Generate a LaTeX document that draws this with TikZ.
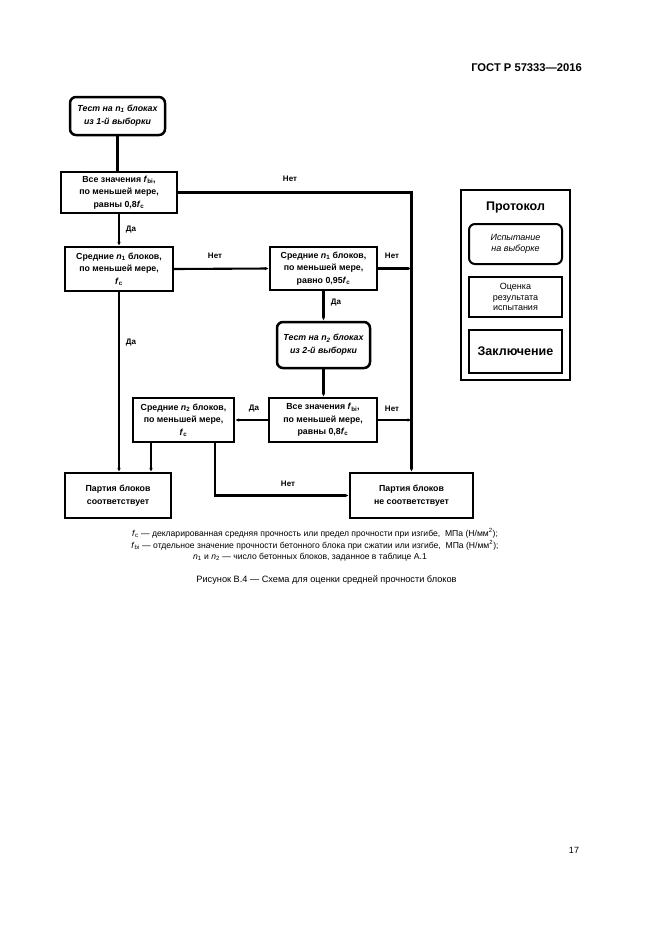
\documentclass[tikz,border=0pt]{standalone}
\usepackage{fontspec}
\setmainfont{Liberation Sans}
\usetikzlibrary{arrows.meta}
\begin{document}
\begin{tikzpicture}[x=1pt,y=-1pt,
  box/.style={draw,line width=2.1pt,align=center,inner sep=1pt,font=\fontsize{8.8}{12.5}\selectfont\bfseries},
  tbox/.style={box,rounded corners=6pt,line width=2.5pt,font=\fontsize{8.8}{13}\selectfont\bfseries\itshape},
  pbox/.style={draw,line width=2pt,minimum width=93,align=center,inner sep=1pt},
  conn/.style={line width=2.1pt},
  arr/.style={conn,-{Latex[length=4pt,width=3.5pt]}},
  lbl/.style={font=\fontsize{8}{9}\selectfont\bfseries,inner sep=0pt},
  note/.style={font=\fontsize{8.6}{10}\selectfont,inner sep=0pt}
]
\useasboundingbox (0,0) rectangle (661,935);
\fill[white] (0,0) rectangle (661,935);

\node[font=\fontsize{11.2}{13}\selectfont\bfseries,anchor=east,inner sep=0pt] (hdr) at (582,68) {ГОСТ Р 57333—2016};

\node[tbox,minimum width=95,minimum height=38] (b1) at (117.5,116) {Тест на \textit{n}\textsubscript{1} блоках\\из 1-й выборки};
\node[box,minimum width=116,minimum height=41] (b2) at (119,192.5) {Все значения \textit{f}\textsubscript{bi},\\по меньшей мере,\\равны 0,8\textit{f}\textsubscript{c}};
\node[box,minimum width=108,minimum height=44] (b3) at (119,269) {Средние \textit{n}\textsubscript{1} блоков,\\по меньшей мере,\\\textit{f}\textsubscript{c}};
\node[box,minimum width=107,minimum height=43] (b4) at (323.5,268.5) {Средние \textit{n}\textsubscript{1} блоков,\\по меньшей мере,\\равно 0,95\textit{f}\textsubscript{c}};
\node[tbox,minimum width=93,minimum height=46] (b5) at (323.5,345) {Тест на \textit{n}\textsubscript{2} блоках\\из 2-й выборки};
\node[box,minimum width=108,minimum height=44] (b6) at (323,420) {Все значения \textit{f}\textsubscript{bi},\\по меньшей мере,\\равны 0,8\textit{f}\textsubscript{c}};
\node[box,minimum width=101,minimum height=44] (b7) at (183.5,420) {Средние \textit{n}\textsubscript{2} блоков,\\по меньшей мере,\\\textit{f}\textsubscript{c}};
\node[box,minimum width=106,minimum height=45] (b8) at (118,495.5) {Партия блоков\\соответствует};
\node[box,minimum width=123,minimum height=45] (b9) at (411.5,495.5) {Партия блоков\\не соответствует};

\node[draw,line width=2pt,minimum width=109,minimum height=190] (pr) at (515.5,285) {};
\node[font=\fontsize{12.5}{14}\selectfont\bfseries,inner sep=0pt] (prt) at (515.5,207) {Протокол};
\node[pbox,rounded corners=6pt,minimum height=40,font=\fontsize{9}{11}\selectfont\itshape] (p1) at (515.5,244) {Испытание\\на выборке};
\node[pbox,minimum height=40,font=\fontsize{9}{10.5}\selectfont] (p2) at (515.5,297) {Оценка\\результата\\испытания};
\node[pbox,minimum height=43,font=\fontsize{12.5}{14}\selectfont\bfseries] (p3) at (515.5,351.5) {Заключение};

\draw[conn] (b1.south) -- (b1.south |- b2.north);
\draw[arr] (b2.east) -| (b9.north);
\draw[arr] (b2.south) -- (b2.south |- b3.north);
\draw[arr] (b3.east) -- (b4.west);
\draw[arr] (b3.south) -- (b3.south |- b8.north);
\draw[arr] (b4.east) -- (b4.east -| b9.north);
\draw[arr] (b4.south) -- (b5.north);
\draw[arr] (b5.south) -- (b5.south |- b6.north);
\draw[arr] (b6.west) -- (b7.east);
\draw[arr] (b6.east) -- (b6.east -| b9.north);
\draw[arr] ([xshift=-32.5pt]b7.south) -- ([xshift=-32.5pt]b7.south |- b8.north);
\draw[arr] ([xshift=31.5pt]b7.south) |- (b9.west);

\node[lbl] (l1) at (290,179) {Нет};
\node[lbl] (l2) at (131,230) {Да};
\node[lbl] (l3) at (215,256) {Нет};
\node[lbl] (l4) at (131,343) {Да};
\node[lbl] (l5) at (392,256) {Нет};
\node[lbl] (l6) at (336,303) {Да};
\node[lbl] (l7) at (254,409) {Да};
\node[lbl] (l8) at (392,409) {Нет};
\node[lbl] (l9) at (288,484) {Нет};

\node[note] (n1) at (315,533) {\textit{f}\textsubscript{c} — декларированная средняя прочность или предел прочности при изгибе,\ \ МПа (Н/мм\textsuperscript{2});};
\node[note] (n2) at (315,545) {\textit{f}\textsubscript{bi} — отдельное значение прочности бетонного блока при сжатии или изгибе,\ \ МПа (Н/мм\textsuperscript{2});};
\node[note] (n3) at (310,557) {\textit{n}\textsubscript{1} и \textit{n}\textsubscript{2} — число бетонных блоков, заданное в таблице А.1};
\node[font=\fontsize{9.2}{11}\selectfont,inner sep=0pt] (cap) at (326.5,580) {Рисунок В.4 — Схема для оценки средней прочности блоков};
\node[font=\fontsize{9}{10}\selectfont,inner sep=0pt] (pg) at (574,850) {17};
\end{tikzpicture}
\end{document}
